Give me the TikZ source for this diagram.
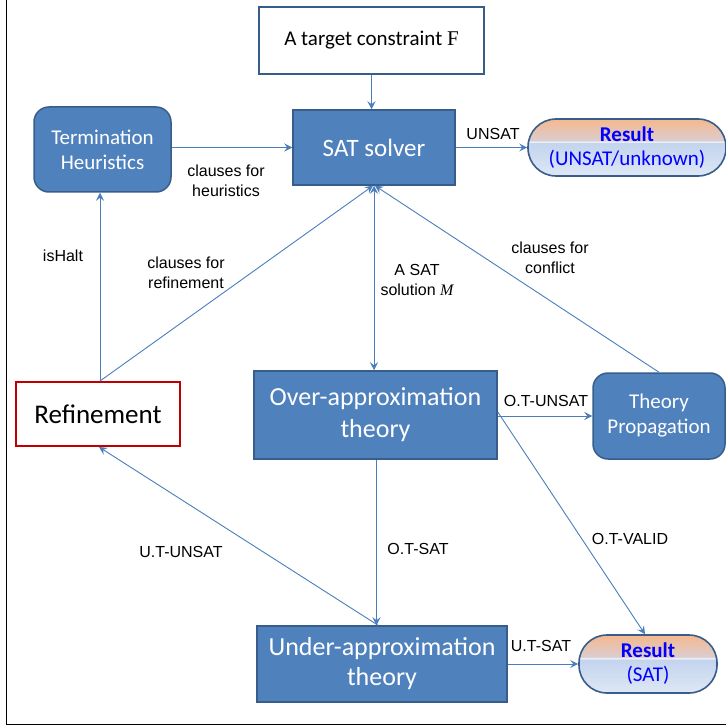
\documentclass[tikz,border=0pt]{standalone}
\usepackage{fontspec}
\newfontfamily\calfont{Carlito}
\newfontfamily\arialfont{Liberation Sans}
\newfontfamily\timesfont{Liberation Serif}
\usetikzlibrary{arrows.meta,shapes.misc}
\definecolor{boxfill}{HTML}{4F81BD}
\definecolor{boxline}{HTML}{385D8A}
\definecolor{arrowc}{HTML}{4A7EBB}
\definecolor{refred}{HTML}{C00000}
\definecolor{resorange}{RGB}{244,184,140}
\definecolor{respeach}{RGB}{220,205,208}
\definecolor{resline}{RGB}{235,240,248}
\definecolor{resblue}{RGB}{195,212,238}
\definecolor{respale}{RGB}{222,231,245}
\definecolor{restext}{RGB}{0,0,255}
\pgfdeclareverticalshading{resshade}{100bp}{color(0bp)=(respale); color(25bp)=(respale); color(54bp)=(resblue); color(54.6bp)=(resline); color(55.4bp)=(resline); color(56bp)=(respeach); color(75bp)=(resorange); color(100bp)=(resorange)}
\begin{document}
\begin{tikzpicture}[x=1pt,y=-1pt,
  bluebox/.style={draw=boxline, line width=1.5pt, fill=boxfill, text=white, align=center, inner sep=0pt},
  roundbox/.style={bluebox, rounded corners=15pt},
  whitebox/.style={draw=boxline, line width=1.5pt, fill=white, align=center, inner sep=0pt},
  redbox/.style={draw=refred, line width=2pt, fill=white, align=center, inner sep=0pt},
  resultbox/.style={draw=boxline, line width=1.6pt, rounded corners=28pt, shading=resshade, text=restext, align=center, inner sep=0pt, font=\calfont\fontsize{21}{24}\selectfont},
  conn/.style={draw=arrowc, line width=0.9pt, -{Stealth[length=8pt,width=8pt,inset=3pt]}},
  dconn/.style={draw=arrowc, line width=0.9pt, {Stealth[length=8pt,width=8pt,inset=3pt]}-{Stealth[length=8pt,width=8pt,inset=3pt]}},
  lab/.style={align=center, inner sep=0pt, font=\arialfont\fontsize{16}{20}\selectfont}
]
\useasboundingbox (0,0) rectangle (725,727);
\draw[line width=1pt, black] (6,-2) -- (6,724) -- (727,724);

% nodes
\node[whitebox, minimum width=225pt, minimum height=67pt, font=\calfont\fontsize{21}{25}\selectfont] (target) at (371.5,40.5) {A target constraint {\timesfont F}};
\node[bluebox, minimum width=162pt, minimum height=75pt, font=\calfont\fontsize{25}{30}\selectfont] (sat) at (374,147.5) {SAT solver};
\node[roundbox, minimum width=137pt, minimum height=85pt, font=\calfont\fontsize{21}{25}\selectfont] (term) at (102.5,149.5) {Termination\\Heuristics};
\node[resultbox, minimum width=198pt, minimum height=57pt] (res1) at (627,147.5) {\textbf{Result}\\(UNSAT/unknown)};
\node[redbox, minimum width=164pt, minimum height=64pt, font=\calfont\fontsize{27}{32}\selectfont] (ref) at (98,414) {Refinement};
\node[bluebox, minimum width=243pt, minimum height=88pt, font=\calfont\fontsize{26}{30}\selectfont] (over) at (375.5,415) {Over-approximation\\[2pt]theory};
\node[roundbox, minimum width=132pt, minimum height=86pt, font=\calfont\fontsize{21}{25}\selectfont] (tp) at (659,416) {Theory\\Propagation};
\node[bluebox, minimum width=250pt, minimum height=76pt, font=\calfont\fontsize{26}{30}\selectfont] (under) at (382,664) {Under-approximation\\theory};
\node[resultbox, minimum width=138pt, minimum height=58pt] (res2) at (648,664) {\textbf{Result}\\(SAT)};

% connectors
\draw[conn] (target.south) -- (target.south |- sat.north);
\draw[conn] (term.east |- sat.west) -- (sat.west);
\draw[conn] (sat.east) -- (res1.west);
\draw[conn] ([xshift=2pt]ref.north) -- ([xshift=2pt]ref.north |- term.south);
\draw[conn] ([xshift=2pt]ref.north) -- ([xshift=-1pt]sat.south);
\draw[dconn] (sat.south) -- (sat.south |- over.north);
\draw[conn] (tp.north) -- ([xshift=1pt]sat.south);
\draw[conn] (over.east |- tp.west) -- (tp.west);
\draw[conn] ([xshift=1pt]over.south) -- ([xshift=1pt]over.south |- under.north);
\draw[conn] ([yshift=3pt]over.east) -- ([xshift=-3pt]res2.north);
\draw[conn] ([xshift=-4pt]under.north) -- ([xshift=1pt]ref.south);
\draw[conn] (under.east) -- (res2.west);

% labels
\node[lab] (lheur) at (226,181) {clauses for\\heuristics};
\node[lab] (lunsat) at (493,134) {UNSAT};
\node[lab] (lhalt) at (63,256) {isHalt};
\node[lab] (lref) at (186,273) {clauses for\\refinement};
\node[lab] (lsol) at (417,280) {A SAT\\solution {\timesfont\itshape M}};
\node[lab] (lconf) at (550,258) {clauses for\\conflict};
\node[lab] (lotu) at (546,401) {O.T-UNSAT};
\node[lab] (lots) at (418,549) {O.T-SAT};
\node[lab] (lotv) at (630,539) {O.T-VALID};
\node[lab] (lutu) at (181,552) {U.T-UNSAT};
\node[lab] (luts) at (541,646) {U.T-SAT};
\end{tikzpicture}
\end{document}
